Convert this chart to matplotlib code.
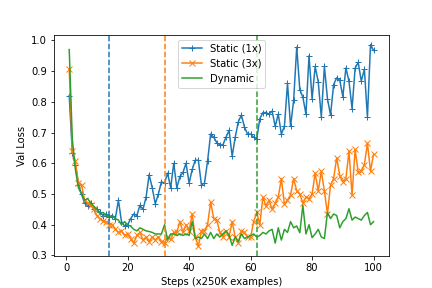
import numpy as np
import matplotlib
matplotlib.use("Agg")
import matplotlib.pyplot as plt

steps = list(range(1, 101))

static_1x = [
    0.82, 0.635, 0.595, 0.53, 0.50, 0.47, 0.46, 0.47, 0.45, 0.45,
    0.44, 0.43, 0.435, 0.425, 0.43, 0.42, 0.48, 0.41, 0.396, 0.40,
    0.42, 0.435, 0.43, 0.463, 0.45, 0.49, 0.563, 0.52, 0.468, 0.50,
    0.54, 0.535, 0.568, 0.52, 0.60, 0.52, 0.557, 0.57, 0.60, 0.535,
    0.58, 0.61, 0.61, 0.53, 0.535, 0.607, 0.695, 0.685, 0.667, 0.66,
    0.66, 0.685, 0.707, 0.623, 0.685, 0.735, 0.757, 0.718, 0.695, 0.695,
    0.685, 0.68, 0.745, 0.765, 0.765, 0.76, 0.77, 0.72, 0.76, 0.695,
    0.72, 0.86, 0.72, 0.805, 0.978, 0.84, 0.815, 0.76, 0.95, 0.81,
    0.915, 0.865, 0.75, 0.915, 0.81, 0.757, 0.856, 0.878, 0.87, 0.817,
    0.91, 0.867, 0.778, 0.91, 0.928, 0.867, 0.906, 0.75, 0.986, 0.967,
]

static_3x = [
    0.906, 0.64, 0.607, 0.535, 0.53, 0.48, 0.47, 0.463, 0.452, 0.43,
    0.42, 0.413, 0.41, 0.40, 0.40, 0.385, 0.375, 0.38, 0.365, 0.37,
    0.355, 0.34, 0.365, 0.375, 0.35, 0.36, 0.345, 0.36, 0.35, 0.36,
    0.345, 0.34, 0.36, 0.352, 0.375, 0.375, 0.41, 0.375, 0.40, 0.38,
    0.435, 0.36, 0.33, 0.38, 0.38, 0.40, 0.474, 0.42, 0.415, 0.375,
    0.36, 0.38, 0.36, 0.41, 0.36, 0.34, 0.38, 0.375, 0.36, 0.36,
    0.41, 0.44, 0.40, 0.49, 0.46, 0.48, 0.45, 0.47, 0.49, 0.55,
    0.466, 0.48, 0.497, 0.55, 0.51, 0.50, 0.47, 0.49, 0.485, 0.50,
    0.568, 0.51, 0.574, 0.51, 0.435, 0.53, 0.55, 0.618, 0.56, 0.54,
    0.55, 0.64, 0.496, 0.645, 0.57, 0.574, 0.595, 0.665, 0.574, 0.63,
]

dynamic = [
    0.97, 0.68, 0.58, 0.52, 0.50, 0.48, 0.485, 0.47, 0.46, 0.45,
    0.435, 0.44, 0.43, 0.425, 0.43, 0.42, 0.415, 0.40, 0.41, 0.40,
    0.395, 0.385, 0.38, 0.39, 0.385, 0.38, 0.378, 0.375, 0.37, 0.37,
    0.37, 0.40, 0.35, 0.37, 0.37, 0.365, 0.37, 0.365, 0.37, 0.365,
    0.41, 0.355, 0.36, 0.355, 0.37, 0.355, 0.375, 0.355, 0.37, 0.36,
    0.37, 0.38, 0.365, 0.333, 0.36, 0.345, 0.37, 0.355, 0.36, 0.365,
    0.37, 0.36, 0.365, 0.375, 0.37, 0.38, 0.385, 0.34, 0.39, 0.35,
    0.385, 0.375, 0.41, 0.39, 0.396, 0.374, 0.463, 0.37, 0.40, 0.358,
    0.37, 0.385, 0.36, 0.355, 0.44, 0.42, 0.435, 0.43, 0.39, 0.41,
    0.42, 0.452, 0.415, 0.425, 0.42, 0.415, 0.43, 0.44, 0.40, 0.41,
]

best_steps = [14, 32, 62]

fig, ax = plt.subplots(figsize=(6, 4), dpi=72)
ax.plot(steps, static_1x, marker='+', color='C0', label='Static (1x)')
ax.plot(steps, static_3x, marker='x', color='C1', label='Static (3x)')
ax.plot(steps, dynamic, color='C2', label='Dynamic')
for s, c in zip(best_steps, ['C0', 'C1', 'C2']):
    ax.axvline(s, color=c, linestyle='--')
ax.set_xlabel('Steps (x250K examples)')
ax.set_ylabel('Val Loss')
ax.legend(loc='upper center')
fig.savefig('out.png', dpi=72)
